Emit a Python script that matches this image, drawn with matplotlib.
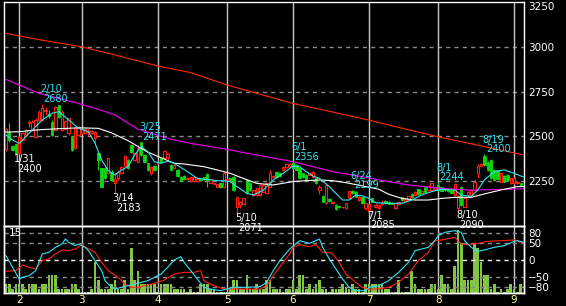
import matplotlib
matplotlib.use('Agg')
import matplotlib.pyplot as plt
import numpy as np

# daily candles, index 0 = last days of January
opens = [2428, 2525, 2445, 2455, 2405, 2480, 2508, 2575, 2535, 2498, 2592, 2592, 2640, 2625, 2582, 2536,
         2675, 2538, 2540, 2519, 2498, 2434, 2508,
         2517, 2520, 2525, 2520, 2490, 2409, 2322, 2322, 2294, 2303, 2240, 2266, 2294, 2335, 2368, 2452,
         2368, 2359, 2471, 2396, 2350, 2294, 2335,
         2350, 2378, 2378, 2385, 2340, 2325, 2313, 2275, 2279, 2261, 2253, 2253, 2253, 2261, 2272, 2290,
         2242, 2235, 2220, 2238, 2216,
         2255, 2268, 2275, 2108, 2115, 2122, 2257, 2240, 2173, 2173, 2173, 2192, 2182, 2220, 2272, 2303,
         2297, 2312, 2330, 2335,
         2350, 2340, 2322, 2294, 2285, 2285, 2272, 2266, 2200, 2168, 2127, 2150, 2127, 2117, 2112, 2104,
         2099, 2154, 2196, 2192, 2145, 2160, 2099,
         2086, 2154, 2105, 2099, 2120, 2140, 2136, 2130, 2099, 2120, 2160, 2138, 2145, 2179, 2173, 2205,
         2186, 2216, 2201, 2201, 2205,
         2229, 2216, 2210, 2205, 2201, 2173, 2099, 2220, 2108, 2173, 2175, 2201, 2294, 2335, 2391, 2359,
         2368, 2313, 2310, 2247, 2279, 2285, 2238,
         2240, 2238, 2238]
highs = [2545, 2575, 2452, 2460, 2500, 2525, 2542, 2590, 2590, 2600, 2645, 2680, 2662, 2645, 2592, 2670,
         2678, 2645, 2590, 2605, 2505, 2550, 2560,
         2545, 2545, 2540, 2535, 2530, 2412, 2325, 2330, 2382, 2310, 2300, 2308, 2335, 2395, 2372, 2456,
         2410, 2452, 2471, 2400, 2354, 2335, 2340,
         2356, 2385, 2422, 2410, 2345, 2345, 2316, 2278, 2283, 2274, 2276, 2275, 2262, 2264, 2276, 2293,
         2264, 2240, 2236, 2241, 2300,
         2265, 2270, 2278, 2170, 2140, 2158, 2260, 2244, 2203, 2213, 2232, 2232, 2241, 2310, 2285, 2306,
         2300, 2334, 2348, 2350,
         2356, 2344, 2326, 2298, 2290, 2301, 2306, 2270, 2230, 2172, 2232, 2154, 2140, 2120, 2115, 2108,
         2130, 2196, 2199, 2196, 2168, 2164, 2130,
         2124, 2158, 2127, 2120, 2145, 2144, 2139, 2133, 2130, 2138, 2164, 2154, 2172, 2183, 2196, 2209,
         2200, 2220, 2226, 2240, 2224,
         2244, 2220, 2214, 2208, 2204, 2238, 2172, 2224, 2158, 2196, 2205, 2262, 2345, 2350, 2400, 2363,
         2372, 2318, 2314, 2302, 2283, 2289, 2270,
         2272, 2250, 2242]
lows = [2420, 2470, 2418, 2400, 2402, 2475, 2500, 2555, 2530, 2495, 2585, 2588, 2620, 2600, 2500, 2530,
        2600, 2532, 2535, 2510, 2418, 2428, 2500,
        2512, 2515, 2505, 2512, 2460, 2313, 2218, 2262, 2290, 2252, 2183, 2255, 2290, 2330, 2318, 2410,
        2362, 2355, 2390, 2355, 2308, 2285, 2308,
        2344, 2355, 2374, 2368, 2310, 2318, 2275, 2250, 2258, 2256, 2250, 2248, 2250, 2252, 2258, 2216,
        2238, 2232, 2216, 2212, 2212,
        2252, 2255, 2198, 2071, 2100, 2118, 2178, 2198, 2170, 2170, 2170, 2188, 2178, 2216, 2268, 2272,
        2276, 2308, 2326, 2330,
        2318, 2310, 2262, 2268, 2256, 2282, 2268, 2234, 2180, 2132, 2124, 2136, 2124, 2090, 2100, 2100,
        2096, 2150, 2178, 2160, 2142, 2124, 2092,
        2085, 2132, 2099, 2095, 2115, 2124, 2120, 2120, 2096, 2117, 2142, 2135, 2140, 2156, 2170, 2175,
        2182, 2188, 2198, 2198, 2202,
        2198, 2195, 2196, 2192, 2182, 2168, 2090, 2112, 2104, 2168, 2170, 2196, 2270, 2330, 2336, 2308,
        2262, 2252, 2255, 2243, 2243, 2253, 2234,
        2236, 2234, 2225]
closes = [2539, 2480, 2425, 2405, 2495, 2518, 2536, 2582, 2582, 2592, 2638, 2657, 2650, 2615, 2508, 2666,
          2610, 2638, 2585, 2600, 2424, 2545, 2555,
          2539, 2540, 2530, 2528, 2525, 2368, 2220, 2266, 2378, 2257, 2265, 2303, 2328, 2391, 2322, 2415,
          2405, 2433, 2396, 2359, 2313, 2331, 2313,
          2350, 2359, 2419, 2400, 2313, 2340, 2279, 2253, 2261, 2270, 2272, 2272, 2260, 2255, 2261, 2257,
          2261, 2238, 2233, 2216, 2298,
          2262, 2258, 2201, 2163, 2135, 2154, 2182, 2201, 2200, 2210, 2229, 2229, 2238, 2294, 2278, 2275,
          2279, 2331, 2345, 2348,
          2322, 2313, 2266, 2272, 2260, 2298, 2303, 2238, 2216, 2136, 2229, 2140, 2136, 2093, 2104, 2105,
          2127, 2194, 2182, 2164, 2164, 2127, 2127,
          2121, 2136, 2115, 2117, 2130, 2127, 2123, 2123, 2127, 2135, 2145, 2150, 2168, 2160, 2192, 2179,
          2197, 2192, 2223, 2238, 2220,
          2201, 2198, 2200, 2195, 2186, 2234, 2168, 2117, 2154, 2192, 2201, 2248, 2335, 2345, 2340, 2313,
          2266, 2257, 2260, 2298, 2247, 2257, 2266,
          2266, 2245, 2229]
volume = [2.0, 2.0, 0.8, 2.0, 2.0, 2.0, 0.8, 2.0, 2.0, 2.0, 0.8, 2.0, 2.0, 4.0, 4.0, 4.0, 0.8, 0.8, 0.8,
          0.8, 2.0, 2.0, 0.8,
          0.3, 0.3, 0.3, 0.8, 7.0, 2.9, 0.8, 0.8, 0.8, 2.0, 2.9, 0.8, 0.8, 2.9, 0.8, 10.1, 2.9, 5.0, 2.0,
          2.0, 2.0, 2.0, 2.0,
          0.3, 2.0, 2.0, 2.0, 2.0, 0.8, 0.8, 0.8, 0.8, 0.3, 0.8, 0.3, 0.3, 2.0, 2.0, 2.0, 0.8, 0.8, 0.3,
          0.3, 0.3,
          0.3, 0.8, 2.9, 2.9, 0.8, 0.8, 4.0, 0.8, 0.8, 2.0, 0.8, 0.8, 2.9, 2.9, 0.8, 0.8, 0.8, 0.3, 0.8,
          0.8,
          2.9, 0.8, 4.0, 4.0, 0.8, 2.0, 0.8, 2.0, 2.9, 0.8, 0.8, 0.3, 0.8, 0.8, 0.8, 2.0, 1.4, 0.8, 2.0,
          0.8, 0.8, 0.3, 2.0,
          2.0, 2.0, 2.0, 2.0, 2.0, 0.8, 0.8, 0.3, 0.3, 2.9, 0.3, 0.3, 0.3, 5.0, 2.0, 0.8, 0.8, 0.8, 0.8,
          2.0, 2.0,
          0.8, 4.0, 2.0, 2.0, 0.8, 6.1, 14.0, 11.1, 2.9, 2.9, 2.9, 11.1, 10.0, 7.0, 4.0, 4.0, 0.8, 2.0,
          0.3, 0.8, 0.3, 0.8, 2.0,
          0.8, 0.3, 2.0]

# moving averages, read at sample days
ma_long_i = [0, 10, 23, 34, 46, 56, 67, 77, 87, 98, 110, 119, 131, 145, 157]
ma_long_v = [3075, 3040, 3000, 2950, 2893, 2856, 2787, 2735, 2684, 2640, 2591, 2550, 2498, 2443, 2396]
ma_75_i = [0, 10, 22, 27, 33, 40, 45, 50, 56, 62, 68, 76, 87, 99, 109, 113, 122, 132, 141, 157]
ma_75_v = [2818, 2740, 2684, 2657, 2620, 2540, 2512, 2484, 2461, 2443, 2424, 2396, 2359, 2303, 2272,
           2257, 2229, 2210, 2200, 2208]
ma_25_i = [0, 4, 10, 16, 22, 28, 32, 37, 43, 51, 54, 60, 64, 68, 71, 76, 81, 87, 91, 95, 99, 103, 109,
           113, 116, 120, 124, 128, 132, 136, 141, 145, 150, 155, 157]
ma_25_v = [2524, 2526, 2537, 2543, 2548, 2545, 2520, 2476, 2412, 2350, 2346, 2331, 2313, 2294, 2272,
           2238, 2229, 2248, 2253, 2257, 2253, 2242, 2220, 2205, 2177, 2154, 2145, 2145, 2154, 2160,
           2160, 2179, 2201, 2220, 2220]
ma_5_i = [0, 2, 4, 6, 8, 11, 14, 16, 19, 22, 25, 27, 29, 31, 33, 35, 37, 39, 41, 43, 45, 47, 49, 51,
          55, 58, 61, 64, 66, 68, 70, 73, 75, 78, 81, 84, 87, 89, 91, 93, 95, 98, 100, 102, 104, 106,
          108, 110, 112, 116, 120, 123, 126, 129, 132, 136, 138, 141, 143, 145, 148, 151, 154, 157]
ma_5_v = [2508, 2480, 2461, 2498, 2536, 2592, 2629, 2638, 2592, 2545, 2526, 2461, 2368, 2309, 2285, 2312,
          2331, 2396, 2443, 2415, 2359, 2350, 2362, 2350, 2303, 2266, 2260, 2253, 2253, 2247, 2220, 2182,
          2173, 2201, 2257, 2294, 2335, 2331, 2303, 2279, 2266, 2220, 2182, 2145, 2145, 2173, 2168, 2154,
          2130, 2127, 2127, 2145, 2173, 2192, 2205, 2201, 2173, 2164, 2201, 2257, 2303, 2313, 2294, 2272]

# RCI (short / long)
rci_s_i = [0, 2, 4, 5, 7, 9, 11, 13, 15, 17, 18, 19, 21, 22, 24, 25, 27, 29, 30, 32, 33, 35, 37, 39, 41,
           43, 45, 47, 49, 51, 53, 54, 56, 58, 60, 62, 65, 67, 69, 73, 77, 79, 81, 83, 86, 89, 92, 95,
           96, 98, 100, 102, 104, 106, 109, 110, 113, 116, 119, 122, 124, 126, 128, 130, 131, 133, 136,
           138, 139, 141, 143, 145, 148, 151, 154, 155, 157]
rci_s_v = [13, -22, -57, -52, -47, -32, 18, 23, 38, 48, 63, 53, 43, 48, 38, 28, -2, -32, -62, -82, -87,
           -82, -77, -72, -67, -62, -52, -42, -22, 0, 10, -7, -32, -57, -82, -87, -92, -87, -82, -82, -80,
           -67, -32, -2, 33, 58, 50, 63, 38, 3, -27, -57, -82, -92, -92, -82, -77, -62, -37, -7, 28, 33,
           38, 58, 73, 83, 88, 83, 58, 38, 26, 30, 38, 43, 56, 58, 53]
rci_l_i = [0, 3, 5, 7, 9, 11, 13, 15, 17, 19, 21, 23, 25, 27, 29, 31, 34, 36, 38, 40, 42, 45, 48, 51,
           54, 57, 59, 60, 63, 66, 69, 73, 77, 79, 81, 84, 86, 87, 89, 92, 94, 96, 98, 99, 101, 103, 106,
           108, 110, 113, 116, 119, 122, 125, 128, 130, 132, 136, 138, 140, 143, 146, 150, 154, 157]
rci_l_v = [-34, -32, -15, -22, -27, -2, 3, 18, 30, 28, 33, 46, 33, 23, -7, -32, -52, -72, -82, -82, -77,
           -70, -60, -42, -37, -37, -32, -62, -77, -87, -87, -87, -87, -77, -47, -7, 18, 38, 46, 40, 46,
           23, 23, 18, -7, -42, -67, -82, -87, -87, -82, -67, -42, -2, 23, 58, 60, 68, 48, 46, 50, 56,
           58, 60, 50]

month_idx = [4, 23, 46, 67, 87, 110, 131, 154]
month_lbl = ['2', '3', '4', '5', '6', '7', '8', '9']
price_ticks = [2250, 2500, 2750, 3000, 3250]
rci_ticks = [80, 50, 0, -50, -80]

# marked highs / lows
mark_idx = [3, 11, 33, 41, 70, 87, 105, 110, 131, 137, 145]
mark_date = ['1/31', '2/10', '3/14', '3/25', '5/10', '6/1', '6/24', '7/1', '8/1', '8/10', '8/19']
mark_high = [False, True, False, True, False, True, True, False, True, False, True]

RED = '#ff2010'
GREEN = '#10d810'
CYAN = '#30e4f4'

o, h, l, c = (np.array(a, dtype=float) for a in (opens, highs, lows, closes))
idx = np.arange(len(c))
up = c >= o

fig = plt.figure(figsize=(5.66, 3.06), dpi=100, facecolor='black')
ax2 = fig.add_axes([4 / 566, 13 / 306, 520 / 566, 67 / 306])
ax1 = fig.add_axes([4 / 566, 80 / 306, 520 / 566, 224 / 306])
ax1.set_zorder(3)
ax1.patch.set_visible(False)
ax2.set_facecolor('black')

# price panel
for lv in price_ticks[:-1]:
    ax1.axhline(lv, color='#8a8a8a', lw=1, ls=(0, (3, 3)), zorder=1)
for m in month_idx:
    ax1.axvline(m, color='#c8c8c8', lw=1, zorder=1)

ax1.vlines(idx[up], l[up], h[up], color=RED, lw=0.8, zorder=2)
ax1.vlines(idx[~up], l[~up], h[~up], color=GREEN, lw=0.8, zorder=2)
ax1.bar(idx[up], c[up] - o[up], bottom=o[up], width=0.72, facecolor='black', edgecolor=RED,
        lw=0.8, zorder=3)
ax1.bar(idx[~up], o[~up] - c[~up], bottom=c[~up], width=0.72, color=GREEN, edgecolor=GREEN,
        lw=0.6, zorder=3)

ax1.plot(ma_long_i, ma_long_v, color='#ff2a00', lw=0.8, zorder=4)
ax1.plot(ma_75_i, ma_75_v, color='#f000f0', lw=0.8, zorder=4)
ax1.plot(ma_25_i, ma_25_v, color='white', lw=0.8, zorder=4)
ax1.plot(ma_5_i, ma_5_v, color=CYAN, lw=0.8, zorder=4)

for i, d, hi in zip(mark_idx, mark_date, mark_high):
    if hi:
        val = h[i]
        ax1.annotate(str(int(val)), (i, val), xytext=(1, 0), textcoords='offset points',
                     color=CYAN, fontsize=7, ha='left', va='bottom', zorder=6, annotation_clip=False)
        ax1.annotate(d, (i, val), xytext=(-1.5, 7), textcoords='offset points',
                     color=CYAN, fontsize=7, ha='left', va='bottom', zorder=6, annotation_clip=False)
    else:
        val = l[i]
        ax1.annotate(d, (i, val), xytext=(-1.5, 0), textcoords='offset points',
                     color='white', fontsize=7, ha='left', va='top', zorder=6, annotation_clip=False)
        ax1.annotate(str(int(val)), (i, val), xytext=(1, -7), textcoords='offset points',
                     color='white', fontsize=7, ha='left', va='top', zorder=6, annotation_clip=False)

ax1.set_xlim(-0.6, 157.0)
ax1.set_ylim(2000, 3250)
ax1.set_xticks([])
ax1.yaxis.tick_right()
ax1.set_yticks(price_ticks)
ax1.tick_params(axis='y', length=0, labelcolor='white', labelsize=7.5, pad=3)
# keep the top label inside the picture
ax1.get_yticklabels()[-1].set_verticalalignment('top')

# lower panel: volume + RCI
for m in month_idx:
    ax2.axvline(m, color='#c8c8c8', lw=1, zorder=0)
ax2.bar(idx, volume, width=0.8, color='#84c444', zorder=2)
ax2.set_xlim(-0.6, 157.0)
ax2.set_ylim(0, 15)
ax2.set_yticks([])
ax2.set_xticks(month_idx)
ax2.set_xticklabels(month_lbl)
ax2.tick_params(axis='x', length=0, labelcolor='#ffff88', labelsize=7.5, pad=1.5)
ax2.text(0.01, 0.975, '15', transform=ax2.transAxes, color='white', fontsize=7.5,
         ha='left', va='top')

ax2r = ax2.twinx()
for lv in rci_ticks:
    ax2r.axhline(lv, color='white' if lv == 0 else '#8a8a8a', lw=1, ls=(0, (3, 3)), zorder=1)
ax2r.plot(rci_l_i, rci_l_v, color=RED, lw=0.8, zorder=3)
ax2r.plot(rci_s_i, rci_s_v, color=CYAN, lw=0.8, zorder=3)
ax2r.set_ylim(-99, 102)
ax2r.set_yticks(rci_ticks)
ax2r.tick_params(axis='y', length=0, labelcolor='white', labelsize=7.5, pad=3)

for ax in (ax1, ax2, ax2r):
    for s in ax.spines.values():
        s.set_color('white')
        s.set_linewidth(1)

fig.savefig('out.png', dpi=100, facecolor='black')
